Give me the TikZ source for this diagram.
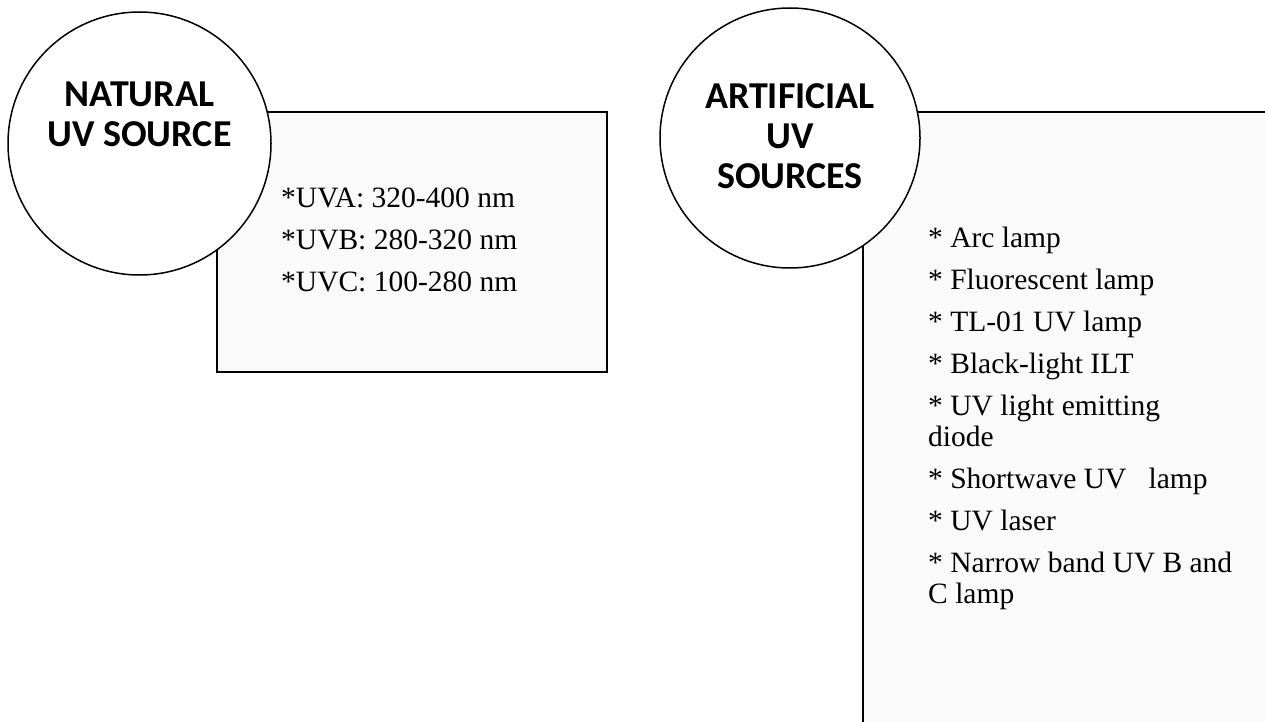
\documentclass[tikz,border=0pt]{standalone}
\usepackage{fontspec}
\setmainfont{Liberation Serif}
\newfontfamily\headfont{Carlito}

\begin{document}
\begin{tikzpicture}
		[x=1pt,y=-1pt,line cap=round,
		%Styles
		source circle/.style={circle,draw,line width=1.5pt,fill=white,minimum size=#1,inner sep=0pt},
		source title/.style={font=\headfont\bfseries\fontsize{38}{40}\selectfont,align=center,inner sep=0pt},
		list box/.style={rectangle,draw,line width=2pt,fill=boxfill,anchor=north west,inner sep=0pt},
		list text/.style={anchor=north west,align=left,inner sep=0pt}
		]
		
		%Colors
		\colorlet{boxfill}{black!2}
		
		\useasboundingbox (0,0) rectangle (1265,722);
		\clip (0,0) rectangle (1265,722);
		
		%The graphic
		\node[list box,minimum width=390pt,minimum height=260pt] (natbox) at (216,111) {};
		\node[list box,minimum width=430pt,minimum height=640pt] (artbox) at (862,111) {};
		
		\node[source circle=263pt] (nat) at (139.5,143.5) {};
		\node[source circle=260pt] (art) at (790,138) {};
		
		\node[source title] (nattitle) at ([yshift=29pt]nat.center) {NATURAL\\UV SOURCE};
		\node[source title] (arttitle) at ([yshift=2pt]art.center) {ARTIFICIAL\\UV\\SOURCES};
		
		\node[list text,font=\fontsize{29.5}{42}\selectfont] (natlist) at (281,188)
			{*UVA: 320-400 nm\\*UVB: 280-320 nm\\*UVC: 100-280 nm};
		\node[list text,font=\fontsize{29.5}{31}\selectfont] (artlist) at (928,227)
			{* Arc lamp\\[11pt]
			 * Fluorescent lamp\\[11pt]
			 * TL-01 UV lamp\\[11pt]
			 * Black-light ILT\\[11pt]
			 * UV light emitting\\diode\\[11pt]
			 * Shortwave UV\ \ \ lamp\\[11pt]
			 * UV laser\\[11pt]
			 * Narrow band UV B and\\C lamp};
	\end{tikzpicture}
\end{document}
